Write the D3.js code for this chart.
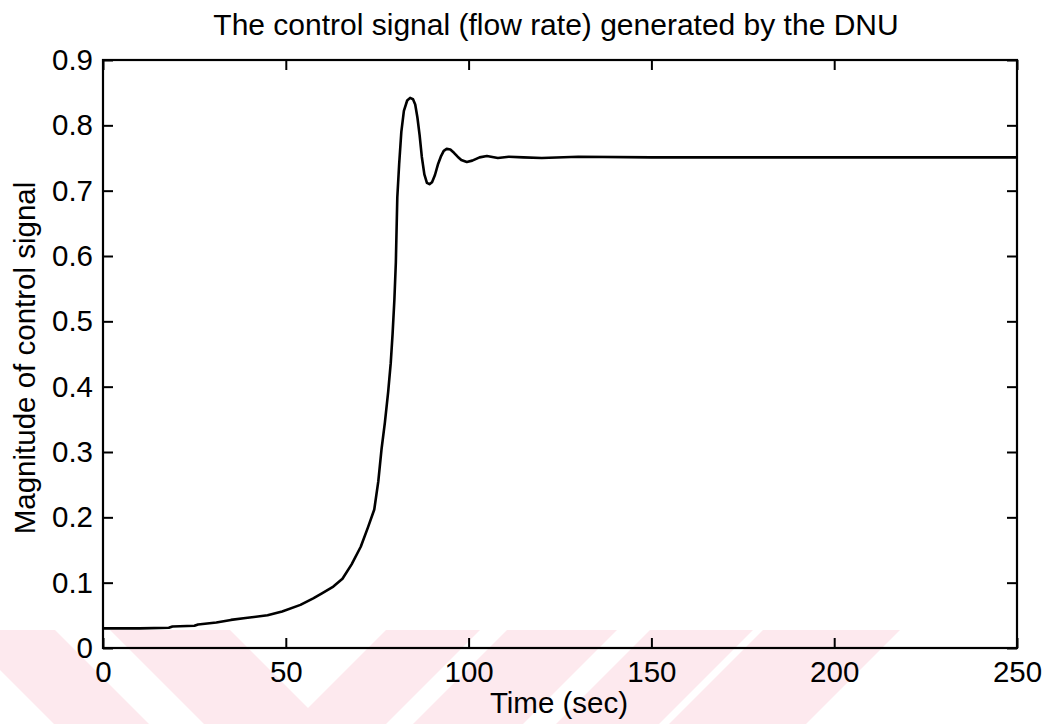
<!DOCTYPE html>
<html>
<head>
<meta charset="utf-8">
<script src="https://cdn.jsdelivr.net/npm/d3@7"></script>
<style>
  body { margin: 0; background: #fff; }
  svg { display: block; }
  text { font-family: "Liberation Sans", Arial, Helvetica, sans-serif; fill: #000; }
</style>
</head>
<body>
<svg id="chart" width="1049" height="724"></svg>
<script>
// Time axis samples (seconds) and the DNU control signal (flow rate) at each sample
const timeSec = [0, 10, 18, 19, 25, 26, 31, 35, 39, 45, 49, 54, 57.5, 60, 63, 65.5, 68, 70.5,
  72.5, 74.2, 75.3, 76.2, 77.1, 78, 78.7, 79.2, 79.7, 80.1, 80.5, 81, 81.6, 82.3, 83.2, 84,
  84.8, 85.4, 86, 86.6, 87.2, 87.9, 88.6, 89.3, 90, 90.8, 91.6, 92.4, 93.2, 94, 95, 96, 97,
  98, 99.5, 101, 103, 105, 108, 111, 115, 120, 130, 150, 175, 200, 225, 250];
const controlSignal = [0.030, 0.030, 0.031, 0.033, 0.034, 0.036, 0.039, 0.043, 0.046, 0.050,
  0.056, 0.066, 0.076, 0.084, 0.094, 0.106, 0.128, 0.155, 0.185, 0.212, 0.255, 0.305, 0.345,
  0.392, 0.436, 0.480, 0.533, 0.590, 0.690, 0.740, 0.790, 0.822, 0.838, 0.842, 0.840, 0.832,
  0.812, 0.785, 0.752, 0.725, 0.712, 0.710, 0.713, 0.724, 0.740, 0.752, 0.761, 0.764, 0.763,
  0.758, 0.752, 0.747, 0.744, 0.746, 0.751, 0.753, 0.750, 0.752, 0.751, 0.750, 0.752, 0.751,
  0.751, 0.751, 0.751, 0.751];

const xTicks = [0, 50, 100, 150, 200, 250];
const xTickLabels = ["0", "50", "100", "150", "200", "250"];
const yTicks = [0, 0.1, 0.2, 0.3, 0.4, 0.5, 0.6, 0.7, 0.8, 0.9];
const yTickLabels = ["0", "0.1", "0.2", "0.3", "0.4", "0.5", "0.6", "0.7", "0.8", "0.9"];

const titleText = "The control signal (flow rate) generated by the DNU";
const xLabelText = "Time (sec)";
const yLabelText = "Magnitude of control signal";

const plot = { left: 103, right: 1017, top: 60, bottom: 648 };
const fontSize = 29.5;
const tickLen = 10;

const svg = d3.select("#chart");

// Faint pink stripe pattern printed along the bottom of the page
const band = { top: 630, bottom: 724 };
const stripes = [
  { dir: 1, x0: -40, x1: 55 },
  { dir: 1, x0: 110, x1: 230 },
  { dir: -1, x0: 386, x1: 480 },
  { dir: -1, x0: 507, x1: 617 },
  { dir: -1, x0: 650, x1: 753 },
  { dir: -1, x0: 763, x1: 900 }
];
const drop = band.bottom - band.top;
svg.append("g").selectAll("polygon")
  .data(stripes)
  .join("polygon")
  .attr("points", s => [
    [s.x0, band.top], [s.x1, band.top],
    [s.x1 + s.dir * drop, band.bottom], [s.x0 + s.dir * drop, band.bottom]
  ].map(p => p.join(",")).join(" "))
  .attr("fill", "#fde9ee");

const x = d3.scaleLinear().domain([0, 250]).range([plot.left, plot.right]);
const y = d3.scaleLinear().domain([0, 0.9]).range([plot.bottom, plot.top]);

// Bottom axis with labels, ticks pointing inward
const gx = svg.append("g")
  .attr("transform", `translate(0,${plot.bottom})`)
  .call(d3.axisBottom(x).tickValues(xTicks)
    .tickFormat((d, i) => xTickLabels[i])
    .tickSizeInner(-tickLen).tickSizeOuter(0).tickPadding(13));
// Left axis with labels
const gy = svg.append("g")
  .attr("transform", `translate(${plot.left},0)`)
  .call(d3.axisLeft(y).tickValues(yTicks)
    .tickFormat((d, i) => yTickLabels[i])
    .tickSizeInner(-tickLen).tickSizeOuter(0).tickPadding(10));
// Top and right axes: ticks only
const gxt = svg.append("g")
  .attr("transform", `translate(0,${plot.top})`)
  .call(d3.axisTop(x).tickValues(xTicks).tickFormat("")
    .tickSizeInner(-tickLen).tickSizeOuter(0));
const gyr = svg.append("g")
  .attr("transform", `translate(${plot.right},0)`)
  .call(d3.axisRight(y).tickValues(yTicks).tickFormat("")
    .tickSizeInner(-tickLen).tickSizeOuter(0));

[gx, gy, gxt, gyr].forEach(g => {
  g.select(".domain").remove();
  g.selectAll(".tick line").attr("stroke", "#000").attr("stroke-width", 2);
  g.selectAll(".tick text").attr("font-size", fontSize).attr("fill", "#000")
    .style("font-family", '"Liberation Sans", Arial, sans-serif');
});

// Axes box
svg.append("rect")
  .attr("x", plot.left).attr("y", plot.top)
  .attr("width", plot.right - plot.left).attr("height", plot.bottom - plot.top)
  .attr("fill", "none").attr("stroke", "#000").attr("stroke-width", 2.2);

// Signal line
const line = d3.line()
  .x((d, i) => x(timeSec[i]))
  .y(d => y(d))
  .curve(d3.curveLinear);

svg.append("path")
  .datum(controlSignal)
  .attr("d", line)
  .attr("fill", "none")
  .attr("stroke", "#000")
  .attr("stroke-width", 2.6)
  .attr("stroke-linejoin", "round");

// Title and axis labels
svg.append("text")
  .attr("x", 556).attr("y", 35)
  .attr("text-anchor", "middle").attr("font-size", 30)
  .text(titleText);

svg.append("text")
  .attr("x", 559).attr("y", 713)
  .attr("text-anchor", "middle").attr("font-size", fontSize)
  .text(xLabelText);

svg.append("text")
  .attr("transform", `translate(35,${(plot.top + plot.bottom) / 2 + 4}) rotate(-90)`)
  .attr("text-anchor", "middle").attr("font-size", fontSize)
  .text(yLabelText);
</script>
</body>
</html>
